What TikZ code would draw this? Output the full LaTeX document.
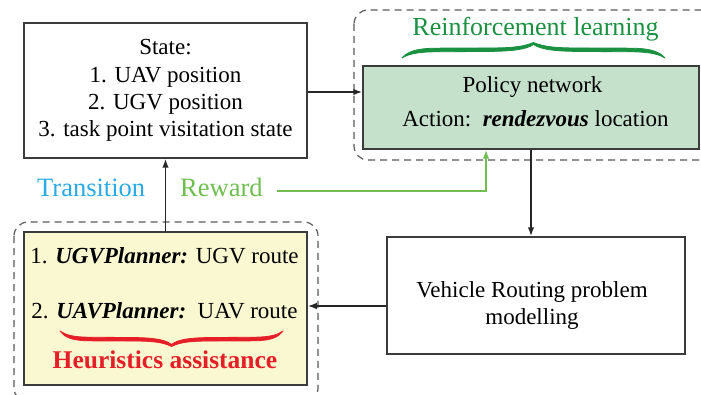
\documentclass[tikz,border=0pt]{standalone}
\usepackage{fontspec}
\setmainfont{Liberation Serif}
\usetikzlibrary{arrows.meta}
\definecolor{polfill}{RGB}{197,225,204}
\definecolor{yelfill}{RGB}{250,248,208}
\definecolor{transblue}{RGB}{40,170,230}
\definecolor{rewgreen}{RGB}{110,190,80}
\definecolor{rlgreen}{RGB}{25,145,65}
\definecolor{heured}{RGB}{230,30,40}
\definecolor{boxgray}{RGB}{60,60,60}
\newcommand\brushbrace{%
  (-100,0) .. controls (-96,6) and (-90,9.5) .. (-75,9.8)
  .. controls (-60,10) and (-45,10) .. (-35,10)
  .. controls (-18,10) and (-8,11) .. (0,15.5)
  .. controls (8,11) and (18,10) .. (35,10)
  .. controls (45,10) and (60,10) .. (75,9.8)
  .. controls (90,9.5) and (96,6) .. (100,0)
  .. controls (95,4) and (88,6) .. (75,6.2)
  .. controls (60,6.4) and (45,6.4) .. (35,6.5)
  .. controls (18,6.8) and (6,8) .. (0,13.5)
  .. controls (-6,8) and (-18,6.8) .. (-35,6.5)
  .. controls (-45,6.4) and (-60,6.4) .. (-75,6.2)
  .. controls (-88,6) and (-95,4) .. cycle}
\begin{document}
\begin{tikzpicture}[x=1pt,y=1pt,
  box/.style={draw=boxgray,line width=1.5pt,inner sep=0pt},
  arr/.style={line width=1.5pt,draw=black!85,-{Latex[length=9pt,width=6.5pt]}},
  grp/.style={draw=black!65,line width=1.2pt,dash pattern=on 7pt off 5pt,rounded corners=14pt},
  txt/.style={font=\fontsize{23}{27}\selectfont,inner sep=0pt},
  big/.style={font=\fontsize{26.5}{30}\selectfont,inner sep=0pt},
  brc/.style={line width=0.8pt,line join=round}]
\useasboundingbox (0,0) rectangle (701,394);
% groups
\draw[grp] (354,384) rectangle (718,234);
\draw[grp] (14,172) rectangle (318,-8);
% boxes
\node[box,minimum width=283pt,minimum height=135pt,align=center,font=\fontsize{23}{27.3}\selectfont] (state) at (165.5,303.5)
  {State:\\1. UAV position\\2. UGV position\\3. task point visitation state};
\node[box,fill=polfill,minimum width=336pt,minimum height=83pt] (policy) at (531,286.5) {};
\node[txt,anchor=base] (pol1) at (532.5,301) {Policy network};
\node[txt,anchor=base] (pol2) at (535.5,267) {Action:\ \ \textbf{\textit{rendezvous}} location};
\node[box,minimum width=298pt,minimum height=117pt] (vrp) at (536,98.5) {};
\node[txt,anchor=base] (vrp1) at (532,97) {Vehicle Routing problem};
\node[txt,anchor=base] (vrp2) at (532,70) {modelling};
\node[box,fill=yelfill,minimum width=283pt,minimum height=153pt] (yel) at (165.5,85.5) {};
\node[txt,anchor=base] (h1) at (164.5,131) {1. \textbf{\textit{UGVPlanner:}} UGV route};
\node[txt,anchor=base] (h2) at (164.5,76) {2. \textbf{\textit{UAVPlanner:}}\ \ UAV route};
% labels
\node[anchor=base,inner sep=0pt,text=heured,font=\fontsize{25.5}{30}\selectfont\bfseries] (heu) at (165,26) {Heuristics assistance};
\node[big,anchor=base,text=rlgreen,font=\fontsize{26}{30}\selectfont] (rl) at (535.5,358) {Reinforcement learning};
\node[big,anchor=base west,text=transblue] (trans) at (37,197) {Transition};
\node[big,anchor=base west,text=rewgreen] (reward) at (180,197) {Reward};
% braces
\begin{scope}[shift={(533.5,336)},xscale=1.315]
  \filldraw[brc,draw=rlgreen,fill=rlgreen] \brushbrace;
\end{scope}
\begin{scope}[shift={(171.5,63)},xscale=1.115,yscale=-1]
  \filldraw[brc,draw=heured,fill=heured] \brushbrace;
\end{scope}
% connectors
\draw[arr] (state.east |- 0,302) -- (policy.west |- 0,302);
\draw[arr] (policy.south) -- (policy.south |- vrp.north);
\draw[arr] (vrp.west |- 0,88) -- (yel.east |- 0,88);
\draw[arr] (yel.north) -- (state.south);
\coordinate (rs) at ([xshift=14pt]reward.east |- 0,203);
\draw[arr,draw=rewgreen] (rs) -- (486,203) -- (policy.south -| 486,0);
\end{tikzpicture}
\end{document}
